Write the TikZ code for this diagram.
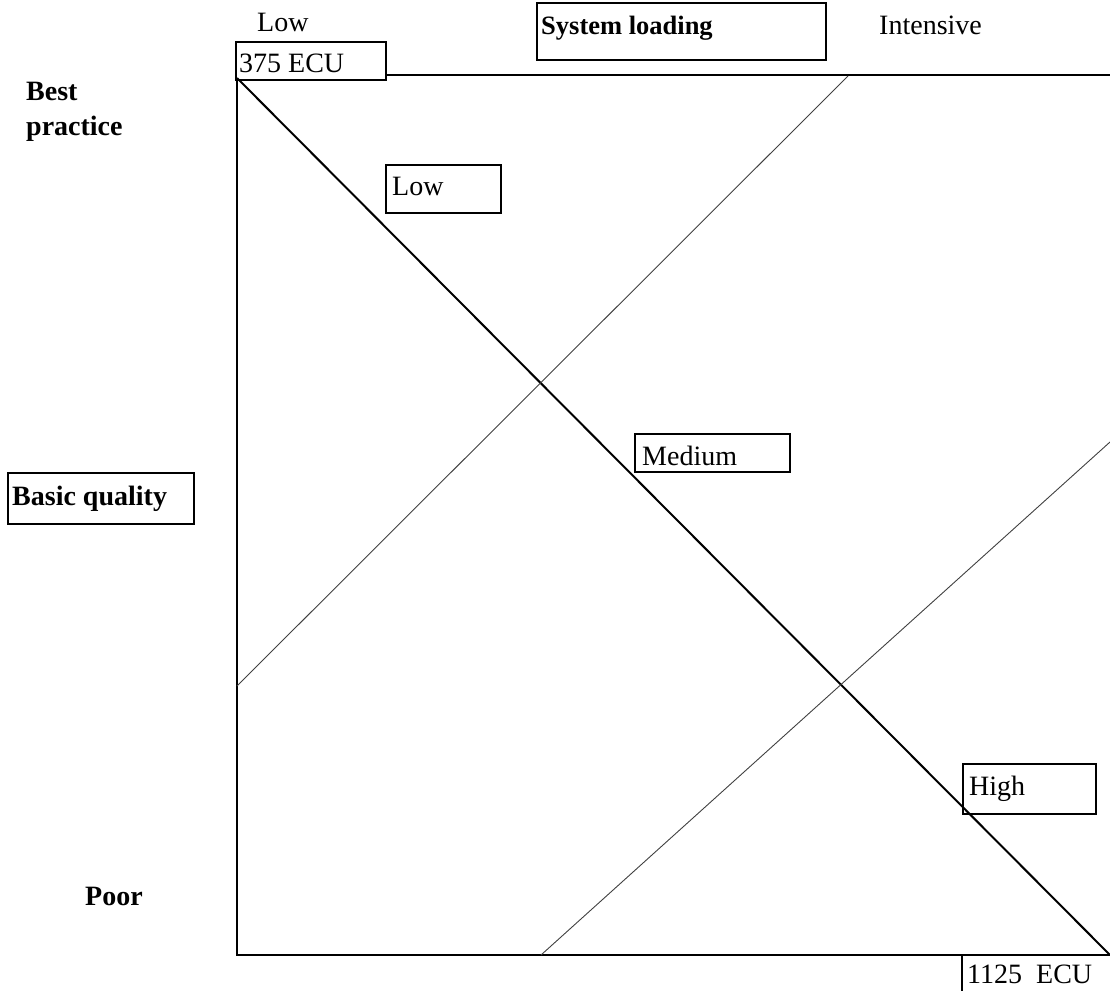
\documentclass[tikz,border=0pt]{standalone}
\usepackage{fontspec}
\setmainfont{Liberation Serif}
\begin{document}
\begin{tikzpicture}[x=1pt,y=-1pt,
  txt/.style={inner sep=0pt,anchor=base west,font=\fontsize{28}{32}\selectfont},
  btxt/.style={txt,font=\fontsize{28}{32}\selectfont\bfseries},
  stxt/.style={txt,font=\fontsize{26.5}{32}\selectfont\bfseries},
  frame/.style={draw,line width=2pt,inner sep=0pt},
  axis/.style={line width=2.6pt},
  main/.style={line width=2pt},
  thin/.style={line width=0.9pt,black!75}]
\useasboundingbox (0,0) rectangle (1110,990);
\clip (0,0) rectangle (1110,990);
% coordinates
\coordinate (tl) at (237,78);
\coordinate (tr) at (1110,75);
\coordinate (bl) at (237,955);
\coordinate (br) at (1110,955);
\coordinate (a1) at (237,686);
\coordinate (a2) at (848,76);
\coordinate (b1) at (541,955);
\coordinate (b2) at (1110,442);
% boxes
\draw[frame] (236,42) rectangle (386,80) coordinate (ecubox);
\draw[frame] (537,3) rectangle (826,60);
\draw[frame] (8,473) rectangle (194,524);
\draw[frame] (386,165) rectangle (501,213);
\draw[frame] (635,434) rectangle (790,472);
\draw[frame] (963,764) rectangle (1096,814);
\draw[frame] (962,955) rectangle (1130,1000);
% lines
\coordinate (ecur) at (386,75);
\draw[axis] (ecur) -- (tr);
\draw[axis] (tl) -- (bl) -- (br);
\draw[main] (tl) -- (br);
\draw[thin] (a1) -- (a2);
\draw[thin] (b1) -- (b2);
% texts
\node[txt] (lowtop) at (257,32) {Low};
\node[txt] (ecu375) at (239,73) {375 ECU};
\node[stxt] (sysload) at (541,35) {System loading};
\node[txt] (intensive) at (879,35) {Intensive};
\node[btxt] (best) at (26,100) {Best};
\node[btxt] (practice) at (26,135) {practice};
\node[btxt] (basic) at (12,505) {Basic quality};
\node[btxt] (poor) at (85,905) {Poor};
\node[txt] (lowlbl) at (392,195) {Low};
\node[txt] (medlbl) at (642,465) {Medium};
\node[txt] (highlbl) at (969,795) {High};
\node[txt] (ecu1125) at (967,983) {1125\ \ ECU};
\end{tikzpicture}
\end{document}
